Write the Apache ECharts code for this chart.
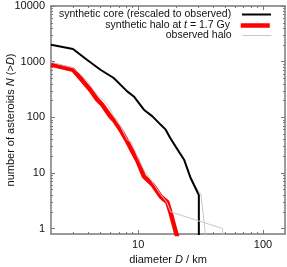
<!DOCTYPE html>
<html><head><meta charset="utf-8">
<script src="https://cdn.jsdelivr.net/npm/echarts@6/dist/echarts.min.js"></script>
<style>html,body{margin:0;padding:0;background:#fff}#c{width:287px;height:267px}</style>
</head><body><div id="c"></div>
<script>
// synthetic core (rescaled to observed)
const coreD = [2.0, 3.0, 3.88, 4.98, 6.36, 8.16, 9.22, 11.1, 13.0, 15.1, 16.6, 18.0, 23.3, 26.3, 30.6, 30.6];
const coreN = [2010, 1684, 1082, 716, 508, 292, 237, 137, 104, 74, 60, 43, 17.3, 8.1, 4.0, 0.5];
// synthetic halo at t = 1.7 Gy
const haloD = [2.0, 3.0, 3.43, 4.12, 4.68, 5.13, 5.98, 6.36, 7.2, 7.9, 8.68, 9.8, 11.1, 13.0, 15.1, 16.2, 17.1, 18.2, 20.0, 20.6];
const haloN = [890, 716, 508, 313, 210, 170, 104, 90, 60, 42, 28, 17, 8.7, 6.2, 3.8, 3.3, 3.0, 1.9, 0.87, 0.7];
// observed halo
const obsD = [2.0, 3.0, 3.43, 4.0, 4.38, 4.81, 5.3, 5.8, 6.36, 7.2, 8.16, 8.7, 9.22, 10.1, 11.2, 12.6, 15.1, 16.9, 18.2, 47.4, 47.4];
const obsN = [975, 777, 600, 420, 313, 237, 200, 157, 104, 68.7, 39.6, 37, 28, 17.3, 11, 7.6, 4.1, 3, 2, 1, 0.5];
// observed core (no legend entry)
const obsCoreD = [2.0, 3.0, 3.88, 4.98, 6.36, 8.16, 9.22, 11.1, 13.0, 15.1, 16.6, 17.6, 18.5, 20.5, 23.3, 26.3, 28.5, 31.8, 33.5, 34.2, 34.6];
const obsCoreN = [2010, 1684, 1082, 716, 508, 292, 237, 137, 104, 74, 60, 47, 37, 25, 17.3, 8.5, 6, 4.1, 1.5, 1, 0.6];

const xMajor = [10, 100];
const xMinor = [3, 4, 5, 6, 7, 8, 9, 20, 30, 40, 50, 60, 70, 80, 90];
const yMajor = [1, 10, 100, 1000, 10000];
const yMinor = [];
[1, 10, 100, 1000].forEach(b => { for (let k = 2; k <= 9; k++) yMinor.push(b * k); });

const NAME_CORE = 'synthetic core (rescaled to observed)';
const NAME_HALO = 'synthetic halo at t = 1.7 Gy';
const NAME_OBS = 'observed halo';

const pairs = (a, b) => a.map((v, i) => [v, b[i]]);
const FONT = 'Liberation Sans, Arial, sans-serif';
const AX = '#7a7a7a';
const TXT = '#111';
const rich = {
  a: {fontSize: 10.5, fontFamily: FONT, color: TXT},
  i: {fontSize: 10.5, fontFamily: FONT, color: TXT, fontStyle: 'italic'}
};
const richName = {
  a: {fontSize: 11, fontFamily: FONT, color: TXT},
  i: {fontSize: 11, fontFamily: FONT, color: TXT, fontStyle: 'italic'}
};
const fmt = v => String(Math.round(v));

function xAxis(pos, major, showLine) {
  const vals = major ? xMajor : xMinor;
  const ax = {
    type: 'log', logBase: 10, min: 2, max: 150, position: pos, gridIndex: 0,
    axisLine: {show: showLine, onZero: false, lineStyle: {color: AX, width: 1.5}},
    axisTick: {show: true, inside: true, length: major ? 4 : 2, customValues: vals, lineStyle: {color: AX, width: 1}},
    axisLabel: {show: major && pos === 'bottom', customValues: vals, formatter: fmt, color: TXT, fontSize: 11, fontFamily: FONT, margin: 5},
    splitLine: {show: false}, minorTick: {show: false}
  };
  if (major && pos === 'bottom') {
    ax.name = '{a|diameter }{i|D}{a| / km}';
    ax.nameLocation = 'middle';
    ax.nameGap = 20;
    ax.nameMoveOverlap = false;
    ax.nameTextStyle = {rich: richName};
  }
  return ax;
}
function yAxis(pos, major, showLine) {
  const vals = major ? yMajor : yMinor;
  const ax = {
    type: 'log', logBase: 10, min: 0.8, max: 10000, position: pos, gridIndex: 0,
    axisLine: {show: showLine, onZero: false, lineStyle: {color: AX, width: 1.5}},
    axisTick: {show: true, inside: true, length: major ? 4 : 2, customValues: vals, lineStyle: {color: AX, width: 1}},
    axisLabel: {show: major && pos === 'left', customValues: vals, formatter: fmt, color: TXT, fontSize: 11, fontFamily: FONT, margin: 6},
    splitLine: {show: false}, minorTick: {show: false}
  };
  if (major && pos === 'left') {
    ax.name = '{a|number of asteroids }{i|N}{a| (>}{i|D}{a|)}';
    ax.nameLocation = 'middle';
    ax.nameGap = 35;
    ax.nameMoveOverlap = false;
    ax.nameTextStyle = {rich: richName};
  }
  return ax;
}

function legend(name, top, width) {
  return {
    data: [name], right: 15, top: top, orient: 'horizontal', align: 'right',
    itemWidth: 29, itemHeight: 10, padding: 0, selectedMode: false,
    lineStyle: {width: width},
    itemStyle: {opacity: 0},
    textStyle: {fontSize: 10.5, fontFamily: FONT, color: TXT, rich: rich},
    formatter: n => n === NAME_HALO ? '{a|synthetic halo at }{i|t}{a| = 1.7 Gy  }' : '{a|' + n + '  }'
  };
}

const chart = echarts.init(document.getElementById('c'), null, {renderer: 'canvas'});
chart.setOption({
  animation: false,
  backgroundColor: '#fff',
  grid: {left: 51, right: 2, top: 6, bottom: 33, outerBoundsMode: 'none', containLabel: false},
  xAxis: [xAxis('bottom', true, true), xAxis('bottom', false, false), xAxis('top', true, true), xAxis('top', false, false)],
  yAxis: [yAxis('left', true, true), yAxis('left', false, false), yAxis('right', true, true), yAxis('right', false, false)],
  legend: [legend(NAME_CORE, 9, 2), legend(NAME_HALO, 20, 4.5), legend(NAME_OBS, 30, 1)],
  series: [
    {name: 'observed core', type: 'line', data: pairs(obsCoreD, obsCoreN), symbol: 'none', lineStyle: {color: '#c8c8c8', width: 1}, itemStyle: {color: '#c8c8c8'}, z: 1},
    {name: NAME_CORE, type: 'line', data: pairs(coreD, coreN), symbol: 'none', lineStyle: {color: '#000', width: 2}, itemStyle: {color: '#000'}, z: 2},
    {name: NAME_HALO, type: 'line', data: pairs(haloD, haloN), symbol: 'none', lineStyle: {color: '#ff0000', width: 4.5}, itemStyle: {color: '#ff0000'}, z: 3},
    {name: NAME_OBS, type: 'line', data: pairs(obsD, obsN), symbol: 'none', lineStyle: {color: '#c8c8c8', width: 1}, itemStyle: {color: '#c8c8c8'}, z: 4}
  ]
});
</script></body></html>
